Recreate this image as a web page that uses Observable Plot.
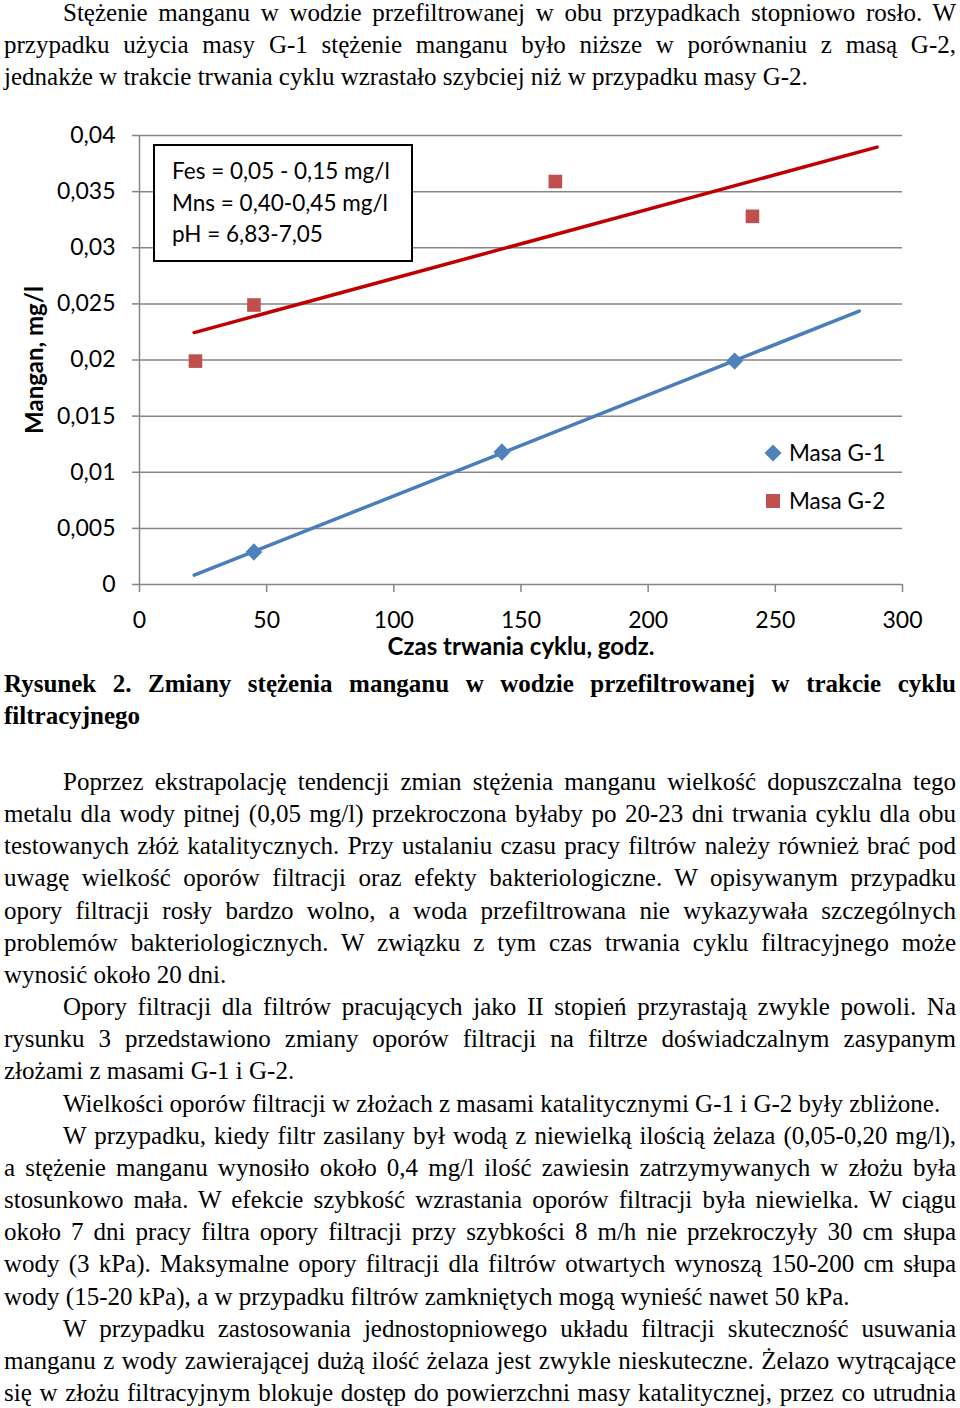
<!DOCTYPE html>
<html lang="pl"><head><meta charset="utf-8">
<script src="https://cdn.jsdelivr.net/npm/d3@7"></script>
<script src="https://cdn.jsdelivr.net/npm/@observablehq/plot@0.6"></script>
<style>
html,body{margin:0;padding:0;background:#fff;}
#page{width:960px;position:relative;overflow:hidden;}
.txt{font-family:"Liberation Serif","Times New Roman",serif;font-size:25px;line-height:32px;color:#000;padding:0 4px;}
.txt div{white-space:nowrap;}
.txt .ind{padding-left:59px;}
#top{margin-top:-3px;}
#chart{position:relative;height:577px;margin-top:-2px;}
#chart svg{position:absolute;left:0;top:0;}
#cap{font-weight:bold;}
#bottom{margin-top:34px;line-height:32.15px;}
.box{position:absolute;left:153px;top:53px;width:260px;height:118px;box-sizing:border-box;border:2px solid #000;background:#fff;
  font-family:Lato,"Noto Sans",sans-serif;font-size:22.5px;line-height:31.5px;padding:9px 0 0 17px;color:#000;white-space:nowrap;}
.leg{position:absolute;font-family:Lato,"Noto Sans",sans-serif;font-size:22.5px;line-height:30px;color:#000;white-space:nowrap;}
.mk{position:absolute;}
</style>
</head><body>
<div id="page">
  <div class="txt" id="top">
    <div class="j ind">Stężenie manganu w wodzie przefiltrowanej w obu przypadkach stopniowo rosło. W</div>
    <div class="j">przypadku użycia masy G-1 stężenie manganu było niższe w porównaniu z masą G-2,</div>
    <div class="l">jednakże w trakcie trwania cyklu wzrastało szybciej niż w przypadku masy G-2.</div>
  </div>
  <div id="chart"></div>
  <div class="txt" id="cap">
    <div class="j">Rysunek 2. Zmiany stężenia manganu w wodzie przefiltrowanej w trakcie cyklu</div>
    <div class="l">filtracyjnego</div>
  </div>
  <div class="txt" id="bottom">
    <div class="j ind">Poprzez ekstrapolację tendencji zmian stężenia manganu wielkość dopuszczalna tego</div>
    <div class="j">metalu dla wody pitnej (0,05 mg/l) przekroczona byłaby po 20-23 dni trwania cyklu dla obu</div>
    <div class="j">testowanych złóż katalitycznych. Przy ustalaniu czasu pracy filtrów należy również brać pod</div>
    <div class="j">uwagę wielkość oporów filtracji oraz efekty bakteriologiczne. W opisywanym przypadku</div>
    <div class="j">opory filtracji rosły bardzo wolno, a woda przefiltrowana nie wykazywała szczególnych</div>
    <div class="j">problemów bakteriologicznych. W związku z tym czas trwania cyklu filtracyjnego może</div>
    <div class="l">wynosić około 20 dni.</div>
    <div class="j ind">Opory filtracji dla filtrów pracujących jako II stopień przyrastają zwykle powoli. Na</div>
    <div class="j">rysunku 3 przedstawiono zmiany oporów filtracji na filtrze doświadczalnym zasypanym</div>
    <div class="l">złożami z masami G-1 i G-2.</div>
    <div class="l ind">Wielkości oporów filtracji w złożach z masami katalitycznymi G-1 i G-2 były zbliżone.</div>
    <div class="j ind">W przypadku, kiedy filtr zasilany był wodą z niewielką ilością żelaza (0,05-0,20 mg/l),</div>
    <div class="j">a stężenie manganu wynosiło około 0,4 mg/l ilość zawiesin zatrzymywanych w złożu była</div>
    <div class="j">stosunkowo mała. W efekcie szybkość wzrastania oporów filtracji była niewielka. W ciągu</div>
    <div class="j">około 7 dni pracy filtra opory filtracji przy szybkości 8 m/h nie przekroczyły 30 cm słupa</div>
    <div class="j">wody (3 kPa). Maksymalne opory filtracji dla filtrów otwartych wynoszą 150-200 cm słupa</div>
    <div class="l">wody (15-20 kPa), a w przypadku filtrów zamkniętych mogą wynieść nawet 50 kPa.</div>
    <div class="j ind">W przypadku zastosowania jednostopniowego układu filtracji skuteczność usuwania</div>
    <div class="j">manganu z wody zawierającej dużą ilość żelaza jest zwykle nieskuteczne. Żelazo wytrącające</div>
    <div class="j">się w złożu filtracyjnym blokuje dostęp do powierzchni masy katalitycznej, przez co utrudnia</div>
  </div>
</div>
<script>
// ---- data ----
const hoursG1 = [45, 142.5, 234];
const manganG1 = [0.0029, 0.0118, 0.0199];
const hoursG2 = [22, 45, 163.5, 241];
const manganG2 = [0.0199, 0.0249, 0.0359, 0.0328];
const trendSpanG1 = [21.5, 283];
const trendSpanG2 = [21.5, 290];
const seriesNames = ["Masa G-1", "Masa G-2"];
const xTicks = [0, 50, 100, 150, 200, 250, 300];
const yTicks = [0, 0.005, 0.01, 0.015, 0.02, 0.025, 0.03, 0.035, 0.04];
const yTickLabels = ["0", "0,005", "0,01", "0,015", "0,02", "0,025", "0,03", "0,035", "0,04"];
const conditions = ["Fes = 0,05 - 0,15 mg/l", "Mns = 0,40-0,45 mg/l", "pH = 6,83-7,05"];
const xLabel = "Czas trwania cyklu, godz.";
const yLabel = "Mangan, mg/l";

const colorsMarker = ["#4F81BD", "#C0504D"];
const colorsTrend = ["#4A7EBB", "#C00000"];

// ---- build tables ----
const g1 = hoursG1.map((x, i) => ({x, y: manganG1[i]}));
const g2 = hoursG2.map((x, i) => ({x, y: manganG2[i]}));
function linreg(xs, ys) {
  const mx = d3.mean(xs), my = d3.mean(ys);
  let sxy = 0, sxx = 0;
  xs.forEach((x, i) => { sxy += (x - mx) * (ys[i] - my); sxx += (x - mx) ** 2; });
  const b = sxy / sxx;
  return x => my + b * (x - mx);
}
const f1 = linreg(hoursG1, manganG1), f2 = linreg(hoursG2, manganG2);
const trendG1 = trendSpanG1.map(x => ({x, y: f1(x)}));
const trendG2 = trendSpanG2.map(x => ({x, y: f2(x)}));

const diamond = {draw(ctx, size) { const h = Math.sqrt(size / Math.PI); ctx.moveTo(0, -h); ctx.lineTo(h * 0.97, 0); ctx.lineTo(0, h); ctx.lineTo(-h * 0.97, 0); ctx.closePath(); }};
const square = {draw(ctx, size) { const h = Math.sqrt(size / Math.PI); ctx.rect(-h, -h, 2 * h, 2 * h); }};

const gray = "#868686";
const chart = Plot.plot({
  width: 960, height: 577,
  marginTop: 44, marginBottom: 84, marginLeft: 139, marginRight: 58,
  style: {fontFamily: "Lato, 'Noto Sans', sans-serif", fontSize: "23px", color: "#000", background: "transparent", overflow: "visible"},
  x: {domain: [0, 300]},
  y: {domain: [0, 0.04]},
  marks: [
    Plot.gridY(yTicks, {stroke: gray, strokeOpacity: 1, strokeWidth: 1.5}),
    Plot.ruleX([0], {stroke: gray, strokeWidth: 1.5}),
    Plot.axisY(yTicks, {tickSize: 7, tickPadding: 17, stroke: gray, strokeWidth: 1.5, fill: "#000", fontSize: 23,
      tickFormat: d => yTickLabels[yTicks.indexOf(d)], label: null}),
    Plot.axisX(xTicks, {tickSize: 8, tickPadding: 19, stroke: gray, strokeWidth: 1.5, fill: "#000", fontSize: 23,
      tickFormat: d => String(d), label: null}),
    Plot.line(trendG1, {x: "x", y: "y", stroke: colorsTrend[0], strokeWidth: 3.5, strokeLinecap: "round"}),
    Plot.line(trendG2, {x: "x", y: "y", stroke: colorsTrend[1], strokeWidth: 3.5, strokeLinecap: "round"}),
    Plot.dot(g1, {x: "x", y: "y", symbol: diamond, r: 8.7, fill: colorsMarker[0]}),
    Plot.dot(g2, {x: "x", y: "y", symbol: square, r: 6.8, fill: colorsMarker[1]}),
    Plot.text([xLabel], {frameAnchor: "bottom", lineAnchor: "middle", textAnchor: "middle", dy: 63, fontWeight: "bold", fontSize: 24, fill: "#000"}),
    Plot.text([yLabel], {frameAnchor: "left", lineAnchor: "middle", textAnchor: "middle", dx: -104, rotate: -90, fontWeight: "bold", fontSize: 24, fill: "#000"})
  ]
});
const holder = document.getElementById("chart");
holder.appendChild(chart);

// conditions box
const box = document.createElement("div");
box.className = "box";
conditions.forEach(t => { const d = document.createElement("div"); d.textContent = t; box.appendChild(d); });
holder.appendChild(box);

// legend
const legRows = [{top: 362, shape: "diamond"}, {top: 410, shape: "square"}];
seriesNames.forEach((name, i) => {
  const mk = document.createElement("div");
  mk.className = "mk";
  if (legRows[i].shape === "diamond") {
    Object.assign(mk.style, {left: "767px", top: (legRows[i].top - 6) + "px", width: "12px", height: "12px", background: colorsMarker[i], transform: "rotate(45deg)"});
  } else {
    Object.assign(mk.style, {left: "766px", top: (legRows[i].top - 7) + "px", width: "14px", height: "14px", background: colorsMarker[i]});
  }
  holder.appendChild(mk);
  const t = document.createElement("div");
  t.className = "leg";
  t.textContent = name;
  Object.assign(t.style, {left: "789px", top: (legRows[i].top - 15) + "px"});
  holder.appendChild(t);
});

// justify forced lines
function justify() {
  document.querySelectorAll(".txt div.j").forEach(div => {
    let span = div.querySelector("span");
    if (!span) { span = document.createElement("span"); span.textContent = div.textContent; div.textContent = ""; div.appendChild(span); }
    span.style.wordSpacing = "0px";
    const cs = getComputedStyle(div);
    const target = div.getBoundingClientRect().width - parseFloat(cs.paddingLeft) - parseFloat(cs.paddingRight);
    const w = span.getBoundingClientRect().width;
    const n = (span.textContent.match(/ /g) || []).length;
    if (n > 0) span.style.wordSpacing = ((target - w) / n) + "px";
  });
}
justify();
if (document.fonts && document.fonts.ready) document.fonts.ready.then(justify);
</script>
</body></html>
